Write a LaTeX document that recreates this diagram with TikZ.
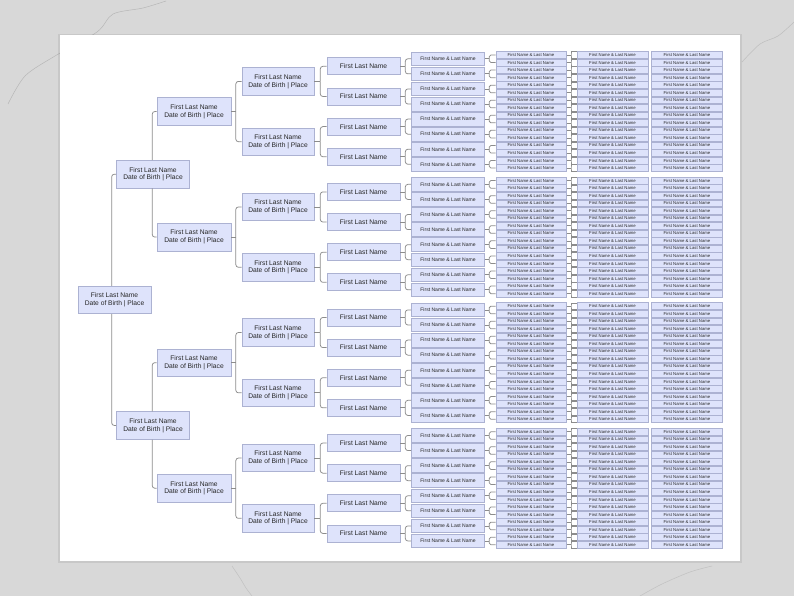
\documentclass[tikz,border=0pt]{standalone}
\usepackage{fontspec}
\setmainfont{Liberation Sans}
\usetikzlibrary{calc}

\definecolor{wall}{RGB}{216,216,216}
\definecolor{vein}{RGB}{150,150,150}
\definecolor{boxfill}{RGB}{222,227,251}
\definecolor{boxline}{RGB}{172,178,210}
\definecolor{linkgray}{RGB}{140,140,140}

\begin{document}
\begin{tikzpicture}[
    x=1pt, y=-1pt,
    box/.style={rectangle, draw=boxline, fill=boxfill, line width=0.7pt, inner sep=0pt, align=center, text=black!85},
    person/.style={box, minimum width=73, minimum height=27.5, font=\fontsize{6.7}{7.8}\selectfont},
    parent/.style={box, minimum width=73, minimum height=17, font=\fontsize{6.7}{7.8}\selectfont},
    gparent/.style={box, minimum width=73, minimum height=13.7, font=\fontsize{5.05}{6}\selectfont},
    leaf/.style={box, minimum width=71, minimum height=6.9, line width=0.5pt, font=\fontsize{4.25}{5}\selectfont},
    link/.style={draw=linkgray, line width=0.75pt},
    elbow/.style={link, rounded corners=2.5pt}
]
% wall, veins and the sheet
\useasboundingbox (0,0) rectangle (794,596);
\fill[wall] (0,0) rectangle (794,596);
\draw[vein, opacity=.5, line width=.5pt] plot[smooth] coordinates {(8,104) (25,76) (55,56) (97,32) (113,14) (143,8) (166,1)};
\draw[vein, opacity=.4, line width=.5pt] plot[smooth] coordinates {(742,62) (760,44) (778,36) (794,22)};
\draw[vein, opacity=.35, line width=.5pt] plot[smooth] coordinates {(232,566) (240,578) (246,588) (252,596)};
\draw[vein, opacity=.35, line width=.5pt] plot[smooth] coordinates {(640,596) (662,584) (690,572) (712,566)};
\fill[black, opacity=.07] (58,34) rectangle (741.5,563);
\fill[white] (59.5,35.5) rectangle (739.5,561);

% generation 1 and 2
\node[person] (root) at (114.5,299.9) {First Last Name\\Date of Birth | Place};
\node[person] (g2-0) at (153,174.3) {First Last Name\\Date of Birth | Place};
\node[person] (g2-1) at (153,425.4) {First Last Name\\Date of Birth | Place};
% generation 3 and 4
\foreach \n in {0,...,3} {
  \pgfmathsetmacro\yy{111.55+125.56*\n}
  \node[person, minimum width=74] (g3-\n) at (194,\yy) {First Last Name\\Date of Birth | Place};
}
\foreach \m in {0,...,7} {
  \pgfmathsetmacro\yy{81.4+60.28*\m+5*floor(\m/2)}
  \node[person, minimum width=72] (g4-\m) at (278,\yy) {First Last Name\\Date of Birth | Place};
}
% generation 5 and 6
\foreach \k in {0,...,15} {
  \pgfmathsetmacro\yy{66.33+30.14*\k+5*floor(\k/4)}
  \node[parent] (g5-\k) at (363.5,\yy) {First Last Name};
}
\foreach \j in {0,...,31} {
  \pgfmathsetmacro\yy{58.8+15.07*\j+5*floor(\j/8)}
  \node[gparent] (g6-\j) at (448,\yy) {First Name \& Last Name};
}
% generations 7, 8 and 9 share rows
\foreach \i in {0,...,63} {
  \pgfmathsetmacro\yy{58.8+15.07*floor(\i/2)+5*floor(\i/16)+3.78*(2*mod(\i,2)-1)}
  \node[leaf, minimum width=70.5] (g7-\i) at (531,\yy) {First Name \& Last Name};
  \node[leaf] (g8-\i) at (612.5,\yy) {First Name \& Last Name};
  \node[leaf] (g9-\i) at (687,\yy) {First Name \& Last Name};
}

% links
\draw[elbow] ([xshift=-2.8]root.north) |- (g2-0.west);
\draw[elbow] ([xshift=-2.8]root.south) |- (g2-1.west);
\foreach \p [evaluate=\p as \a using int(2*\p), evaluate=\p as \b using int(2*\p+1)] in {0,1} {
  \draw[elbow] ([xshift=-0.7]g2-\p.north) |- (g3-\a.west);
  \draw[elbow] ([xshift=-0.7]g2-\p.south) |- (g3-\b.west);
}
\foreach \n [evaluate=\n as \a using int(2*\n), evaluate=\n as \b using int(2*\n+1)] in {0,...,3} {
  \draw[link] (g3-\n.east) -- ++(4.5,0);
  \draw[elbow] ([xshift=4.5]g3-\n.east) |- (g4-\a.west);
  \draw[elbow] ([xshift=4.5]g3-\n.east) |- (g4-\b.west);
}
\foreach \m [evaluate=\m as \a using int(2*\m), evaluate=\m as \b using int(2*\m+1)] in {0,...,7} {
  \draw[link] (g4-\m.east) -- ++(6,0);
  \draw[elbow] ([xshift=6]g4-\m.east) |- (g5-\a.west);
  \draw[elbow] ([xshift=6]g4-\m.east) |- (g5-\b.west);
}
\foreach \k [evaluate=\k as \a using int(2*\k), evaluate=\k as \b using int(2*\k+1)] in {0,...,15} {
  \draw[link] (g5-\k.east) -- ++(5,0);
  \draw[elbow] ([xshift=5]g5-\k.east) |- (g6-\a.west);
  \draw[elbow] ([xshift=5]g5-\k.east) |- (g6-\b.west);
}
\foreach \j [evaluate=\j as \a using int(2*\j), evaluate=\j as \b using int(2*\j+1)] in {0,...,31} {
  \draw[link] (g6-\j.east) -- ++(4.5,0);
  \draw[link, rounded corners=1.5pt] ([xshift=4.5]g6-\j.east) |- (g7-\a.west);
  \draw[link, rounded corners=1.5pt] ([xshift=4.5]g6-\j.east) |- (g7-\b.west);
}
\foreach \i in {0,...,63} {
  \draw[link, line width=0.6pt] (g7-\i.east) -- ++(4.5,0);
  \draw[link, line width=0.6pt] ([yshift=-0.4]g8-\i.north west) -| ([xshift=4.5]g7-\i.east) |- ([yshift=0.4]g8-\i.south west);
}
\end{tikzpicture}
\end{document}
